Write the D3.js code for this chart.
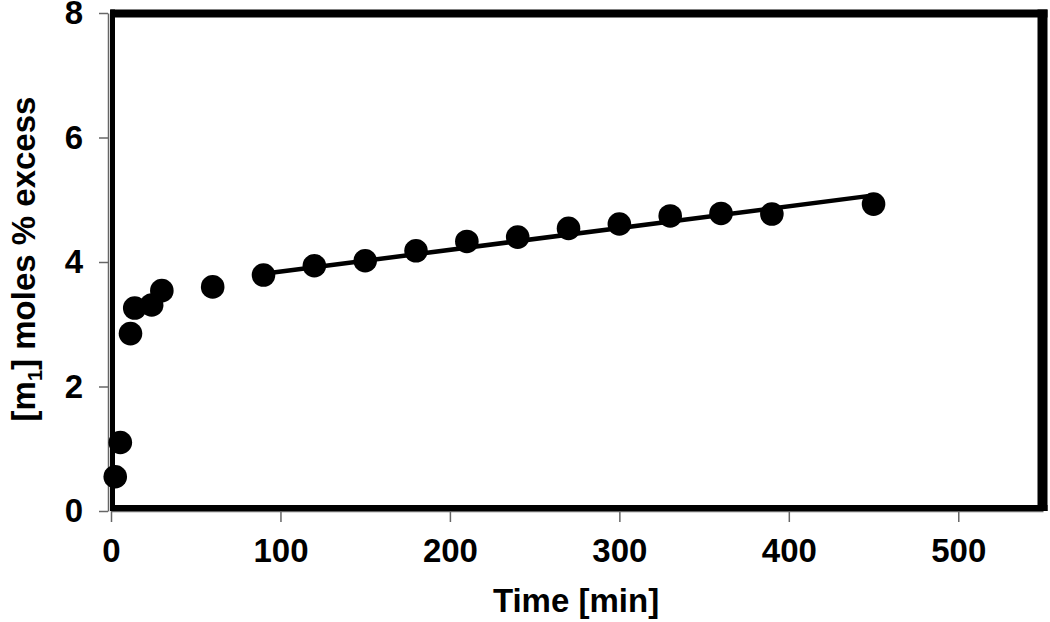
<!DOCTYPE html>
<html>
<head>
<meta charset="utf-8">
<script src="https://cdn.jsdelivr.net/npm/d3@7"></script>
<style>
  body { margin: 0; background: #fff; }
  text { font-family: "Liberation Sans", Arial, sans-serif; font-weight: bold; fill: #000; }
</style>
</head>
<body>
<svg id="chart" width="1050" height="622"></svg>
<script>
// measured points
var times  = [2.5, 5.5, 11.5, 14, 24, 30, 60, 90, 120, 150, 180, 210, 240, 270, 300, 330, 360, 390, 450]
var moles  = [0.55, 1.10, 2.85, 3.26, 3.31, 3.54, 3.60, 3.79, 3.94, 4.02, 4.18, 4.33, 4.40, 4.54, 4.61, 4.74, 4.78, 4.77, 4.93]

// linear trend over the later points
var trendX = [90, 450]
var trendY = [3.81, 5.07]

var xTicks = [0, 100, 200, 300, 400, 500]
var yTicks = [0, 2, 4, 6, 8]

var svg = d3.select("#chart")

var x = d3.scaleLinear().domain([0, 550]).range([111, 1043])
var y = d3.scaleLinear().domain([0, 8]).range([511, 13])

// axes, grey thin lines with outside ticks
var xAxis = svg.append("g")
    .attr("transform", "translate(0," + y(0) + ")")
    .call(d3.axisBottom(x).tickValues(xTicks).tickSize(11).tickSizeOuter(0).tickPadding(16))

var yAxis = svg.append("g")
    .attr("transform", "translate(" + (x(0) - 3) + ",0)")
    .call(d3.axisLeft(y).tickValues(yTicks).tickSize(9).tickSizeOuter(0).tickPadding(16))

svg.selectAll(".domain, .tick line").attr("stroke", "#666").attr("stroke-width", 1.5)
svg.selectAll(".tick text").style("font-size", "33px").attr("fill", "#000")
xAxis.selectAll(".tick text").attr("dy", "0.72em")

// thick black plot frame
var fl = x(0) + 1.5, fr = x(550) - 0.5, ft = y(8) + 0.5, fb = y(0) - 3
svg.append("line").attr("x1", fl).attr("x2", fl).attr("y1", ft - 4).attr("y2", fb + 3)
    .attr("stroke", "#000").attr("stroke-width", 5)
svg.append("line").attr("x1", fl - 2).attr("x2", fr + 5).attr("y1", ft).attr("y2", ft)
    .attr("stroke", "#000").attr("stroke-width", 8)
svg.append("line").attr("x1", fr).attr("x2", fr).attr("y1", ft - 4).attr("y2", fb + 3)
    .attr("stroke", "#000").attr("stroke-width", 10)
svg.append("line").attr("x1", fl - 2).attr("x2", fr + 5).attr("y1", fb).attr("y2", fb)
    .attr("stroke", "#000").attr("stroke-width", 6)

// trend line
var line = d3.line().x(function(d) { return x(d[0]) }).y(function(d) { return y(d[1]) })
svg.append("path")
    .datum(d3.zip(trendX, trendY))
    .attr("d", line)
    .attr("fill", "none")
    .attr("stroke", "#000")
    .attr("stroke-width", 4.5)

// points
svg.selectAll(".pt")
    .data(d3.zip(times, moles))
    .enter().append("circle")
    .attr("class", "pt")
    .attr("cx", function(d) { return x(d[0]) })
    .attr("cy", function(d) { return y(d[1]) })
    .attr("r", 11.8)
    .attr("fill", "#000")

// axis titles
svg.append("text")
    .attr("x", 576).attr("y", 612)
    .attr("text-anchor", "middle")
    .style("font-size", "33px")
    .text("Time [min]")

var yt = svg.append("text")
    .attr("transform", "translate(35,259) rotate(-90)")
    .attr("text-anchor", "middle")
    .style("font-size", "33px")
yt.append("tspan").text("[m")
yt.append("tspan").attr("dy", 7).style("font-size", "20px").text("1")
yt.append("tspan").attr("dy", -7).text("] moles % excess")
</script>
</body>
</html>
